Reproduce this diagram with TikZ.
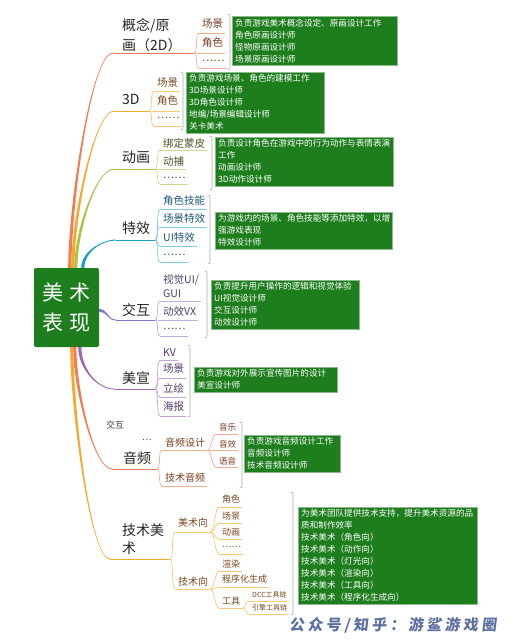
\documentclass[tikz,border=0pt]{standalone}
\usepackage{fontspec}
\setmainfont{Noto Sans CJK SC}
\newfontfamily\footfont[LetterSpace=22,FakeSlant=0.12]{Noto Sans CJK SC}
\usetikzlibrary{calc}
\definecolor{boxgreen}{HTML}{1E7E1E}
\definecolor{boxedge}{HTML}{8DB88D}
\definecolor{ca}{HTML}{F47C53}\definecolor{la}{HTML}{F6AD93}\definecolor{da}{HTML}{7A3B1F}
\definecolor{cb}{HTML}{F9A82E}\definecolor{lb}{HTML}{FAC878}\definecolor{db}{HTML}{7A4A1F}
\definecolor{cc}{HTML}{A9C545}\definecolor{lc}{HTML}{CDDB8E}\definecolor{dc}{HTML}{4F4F2A}
\definecolor{cd}{HTML}{17A2C6}\definecolor{ld}{HTML}{82CCE0}\definecolor{dd}{HTML}{1F5A78}
\definecolor{ce}{HTML}{7A78CC}\definecolor{le}{HTML}{B6B4E2}\definecolor{de}{HTML}{45456A}
\definecolor{cf}{HTML}{A066B8}\definecolor{lf}{HTML}{C9A2D8}\definecolor{df}{HTML}{553A68}
\definecolor{foot}{HTML}{5B6FA0}
\tikzset{
  topic/.style={font=\fontsize{14}{20}\selectfont, text=black!85, inner sep=0pt, anchor=west, align=left},
  subtxt/.style={inner sep=0pt, anchor=west, align=left},
  subline/.style={line width=0.7pt},
  note/.style={fill=boxgreen, draw=boxedge, line width=0.4pt, text=white,
    font=\fontsize{8.6}{12}\selectfont, align=left, inner xsep=3pt, inner ysep=2.5pt, anchor=north west},
  brk/.style={draw=gray!65, line width=0.6pt},
}
\newcommand\mmsub[9]{%
  \node[subtxt,text=#3,font=#4] (#1) at (#6,#7) {#5};
  \coordinate (#1a) at (#6-3,#8);
  \path (#1.east|-#1a) ++(2,0) coordinate (#1b);
  \draw[subline,#2] (#1a) -- (#1b);
  \draw[subline,#2] (#9) .. controls +(4,0) and +(-4,0) .. (#1a);
}
\newcommand\mmbranch[6]{%
  \fill[#1] ([xshift=-1.6pt]#2) .. controls +(0,#4) and +(-#5,0) .. ([yshift=#6*0.45pt]#3)
     -- ([yshift=-#6*0.45pt]#3) .. controls +(-#5,0) and +(0,#4) .. ([xshift=1.6pt]#2) -- cycle;
}
\newcommand\mmbrk[3]{%
  \draw[brk] (#1-2.5,#2) .. controls (#1,#2) .. (#1,#2+5) -- (#1,#3-5) .. controls (#1,#3) .. (#1-2.5,#3);
}
\newcommand\mfa{\fontsize{10.5}{14}\selectfont}
\newcommand\mfg{\fontsize{10}{13}\selectfont}
\newcommand\mfh{\fontsize{8.5}{11}\selectfont}
\newcommand\mfk{\fontsize{9}{12}\selectfont}
\newcommand\mfj{\fontsize{7}{9}\selectfont}
\begin{document}
\begin{tikzpicture}[x=1pt,y=-1pt]
\useasboundingbox[fill=white] (0,0) rectangle (521,640);

\node[fill=boxgreen, rounded corners=2pt, minimum width=65pt, minimum height=79pt, inner sep=0pt,
  text=white, font=\fontsize{21}{30}\selectfont, align=center] (root) at (66.5,307.5)
  {美\hspace{7pt}术\\表\hspace{7pt}现};

\coordinate (s1) at ([xshift=36pt]root.north west);
\coordinate (s2) at ([xshift=39pt]root.north west);
\coordinate (s3) at ([xshift=42pt]root.north west);
\coordinate (s4) at ([xshift=49pt]root.north west);
\coordinate (s5) at ([yshift=-3pt]root.east);
\coordinate (s6) at ([xshift=46pt]root.south west);
\coordinate (s7) at ([xshift=41pt]root.south west);
\coordinate (s8) at ([xshift=38pt]root.south west);

\coordinate (e1) at (113,53);  \coordinate (p1) at (194,53);
\coordinate (e2) at (114,111); \coordinate (p2) at (149,111);
\coordinate (e3) at (114,169); \coordinate (p3) at (155,169);
\coordinate (e4) at (116,240); \coordinate (p4) at (155,240);
\coordinate (e5) at (116,320); \coordinate (p5) at (155,320);
\coordinate (e6) at (114,389); \coordinate (p6) at (155,389);
\coordinate (e7) at (112,469); \coordinate (p7) at (157,469);
\coordinate (e8) at (110,559); \coordinate (p8) at (170,559);

\mmbranch{ca}{s1}{e1}{-62}{22}{1}
\mmbranch{cb}{s2}{e2}{-48}{20}{1}
\mmbranch{cc}{s3}{e3}{-36}{18}{1}
\mmbranch{cd}{s4}{e4}{-16}{14}{1}
\fill[ce] ([yshift=1.5pt]s5) .. controls +(9,0) and +(-9,0) .. ([yshift=0.45pt]e5)
   -- ([yshift=-0.45pt]e5) .. controls +(-9,0) and +(9,0) .. ([yshift=-1.5pt]s5) -- cycle;
\mmbranch{cf}{s6}{e6}{22}{16}{-1}
\mmbranch{ca}{s7}{e7}{42}{18}{-1}
\mmbranch{cb}{s8}{e8}{60}{20}{-1}

\draw[ca,line width=1pt] (e1) -- (p1);
\draw[cb,line width=1pt] (e2) -- (p2);
\draw[cc,line width=1pt] (e3) -- (p3);
\draw[cd,line width=1pt] (e4) -- (p4);
\draw[ce,line width=1pt] (e5) -- (p5);
\draw[cf,line width=1pt] (e6) -- (p6);
\draw[ca,line width=1pt] (e7) -- (p7);
\draw[cb,line width=1pt] (e8) -- (p8);

\node[topic] (t1) at (122,35) {概念/原\\画（2D）};
\node[topic] (t2) at (122,99) {3D};
\node[topic] (t3) at (122,157) {动画};
\node[topic] (t4) at (122,228) {特效};
\node[topic] (t5) at (122,310) {交互};
\node[topic] (t6) at (122,378) {美宣};
\node[topic] (t7) at (123,458) {音频};
\node[topic,font=\fontsize{14}{18}\selectfont] (t8) at (122,539) {技术美\\术};

\mmsub{a1}{la}{da}{\mfa}{场景}{202}{24}{33}{p1}
\mmsub{a2}{la}{da}{\mfa}{角色}{202}{43}{53}{p1}
\mmsub{a3}{la}{da}{\mfa}{……}{202}{61}{68}{p1}
\mmbrk{230}{14}{70}
\node[note,text width=159pt] (b1) at (232,16) {负责游戏美术概念设定、原画设计工作\\角色原画设计师\\怪物原画设计师\\场景原画设计师};

\mmsub{b1s}{lb}{db}{\mfa}{场景}{157}{83}{91}{p2}
\mmsub{b2s}{lb}{db}{\mfa}{角色}{157}{101}{111}{p2}
\mmsub{b3s}{lb}{db}{\mfa}{……}{157}{118}{126}{p2}
\mmbrk{183}{72}{130}
\node[note,text width=132pt] (b2) at (186,72) {负责游戏场景、角色的建模工作\\3D场景设计师\\3D角色设计师\\地编/场景编辑设计师\\关卡美术};

\mmsub{c1s}{lc}{dc}{\mfa}{绑定蒙皮}{163}{143}{150}{p3}
\mmsub{c2s}{lc}{dc}{\mfa}{动捕}{163}{162}{169}{p3}
\mmsub{c3s}{lc}{dc}{\mfa}{……}{163}{178}{184}{p3}
\mmbrk{212}{136}{190}
\node[note,text width=172pt] (b3) at (215,137) {负责设计角色在游戏中的行为动作与表情表演\\工作\\动画设计师\\3D动作设计师};

\mmsub{d1s}{ld}{dd}{\mfa}{角色技能}{163}{201}{209}{p4}
\mmsub{d2s}{ld}{dd}{\mfa}{场景特效}{163}{219}{227}{p4}
\mmsub{d3s}{ld}{dd}{\mfa}{UI特效}{163}{238}{246}{p4}
\mmsub{d4s}{ld}{dd}{\mfa}{……}{163}{255}{262}{p4}
\mmbrk{210}{195}{264}
\node[note,text width=171pt] (b4) at (215,212) {为游戏内的场景、角色技能等添加特效，以增\\强游戏表现\\特效设计师};

\mmsub{e1s}{le}{de}{\mfa}{视觉UI/\\GUI}{163}{286}{301}{p5}
\mmsub{e2s}{le}{de}{\mfa}{动效VX}{163}{312}{320}{p5}
\mmsub{e3s}{le}{de}{\mfa}{……}{163}{329}{336}{p5}
\mmbrk{207}{271}{338}
\node[note,text width=142pt] (b5) at (211,280) {负责提升用户操作的逻辑和视觉体验\\UI视觉设计师\\交互设计师\\动效设计师};

\mmsub{f1s}{lf}{df}{\mfa}{KV}{163}{353}{360}{p6}
\mmsub{f2s}{lf}{df}{\mfa}{场景}{163}{369}{378}{p6}
\mmsub{f3s}{lf}{df}{\mfa}{立绘}{163}{388}{397}{p6}
\mmsub{f4s}{lf}{df}{\mfa}{海报}{163}{407}{416}{p6}
\mmbrk{190}{345}{417}
\node[note,text width=137pt] (b6) at (194,367) {负责游戏对外展示宣传图片的设计\\美宣设计师};

\node[font=\mfk, text=black!75, inner sep=0pt] (xj) at (115,425) {交互};
\node[font=\mfk, text=black!75, inner sep=0pt] (dots) at (147,440) {…};
\mmsub{g1s}{la}{da}{\mfg}{音频设计}{165}{443}{450}{p7}
\mmsub{g2s}{la}{da}{\mfg}{技术音频}{165}{478}{486}{p7}
\mmsub{g3s}{la}{da}{\mfh}{音乐}{219}{427}{434}{g1sb}
\mmsub{g4s}{la}{da}{\mfh}{音效}{219}{444}{450}{g1sb}
\mmsub{g5s}{la}{da}{\mfh}{语音}{219}{461}{467}{g1sb}
\mmbrk{242}{422}{488}
\node[note,text width=90pt] (b7) at (244,435) {负责游戏音频设计工作\\音频设计师\\技术音频设计师};

\mmsub{h1s}{lb}{db}{\mfg}{美术向}{178}{523}{532}{p8}
\mmsub{h2s}{lb}{db}{\mfg}{技术向}{178}{582}{589}{p8}
\mmsub{h3s}{lb}{db}{\mfk}{角色}{222}{499}{507}{h1sb}
\mmsub{h4s}{lb}{db}{\mfk}{场景}{222}{516}{523}{h1sb}
\mmsub{h5s}{lb}{db}{\mfk}{动画}{222}{532}{539}{h1sb}
\mmsub{h6s}{lb}{db}{\mfk}{……}{222}{547}{554}{h1sb}
\mmsub{h7s}{lb}{db}{\mfk}{渲染}{222}{564}{571}{h2sb}
\mmsub{h8s}{lb}{db}{\mfk}{程序化生成}{222}{579}{587}{h2sb}
\mmsub{h9s}{lb}{db}{\mfk}{工具}{222}{601}{608}{h2sb}
\mmsub{h10s}{lb}{db}{\mfj}{DCC工具链}{252}{595}{601}{h9sb}
\mmsub{h11s}{lb}{db}{\mfj}{引擎工具链}{252}{608}{614}{h9sb}
\mmbrk{293}{492}{615}
\node[note,text width=173pt] (b8) at (298,507) {为美术团队提供技术支持，提升美术资源的品\\质和制作效率\\技术美术（角色向）\\技术美术（动作向）\\技术美术（灯光向）\\技术美术（渲染向）\\技术美术（工具向）\\技术美术（程序化生成向）};

\node[font=\footfont\bfseries\fontsize{15}{18}\selectfont, text=foot, inner sep=0pt] (foot) at (393,625) {公众号/知乎：游鲨游戏圈};
\end{tikzpicture}
\end{document}
